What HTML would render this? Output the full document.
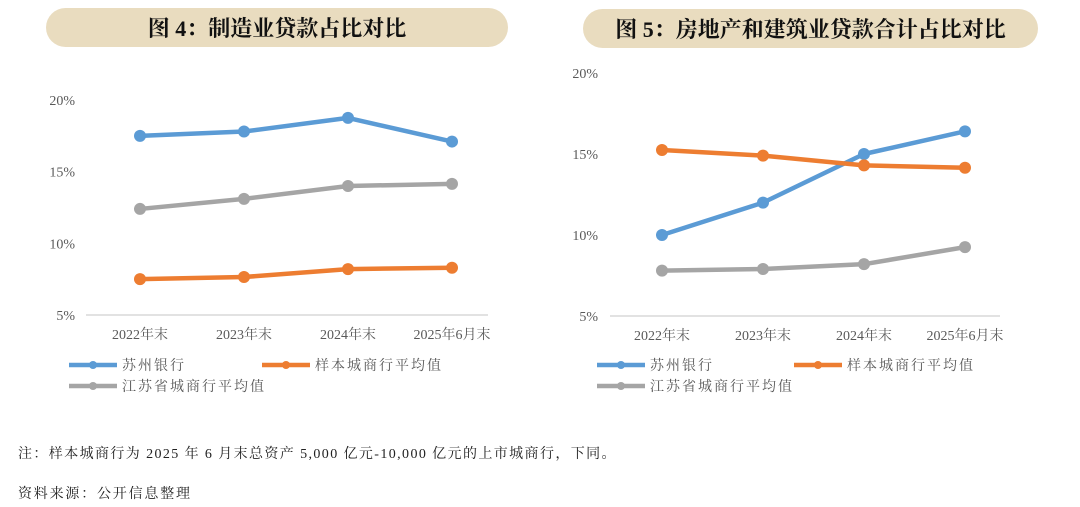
<!DOCTYPE html>
<html><head><meta charset="utf-8"><style>
body{margin:0;width:1080px;height:507px;background:#fff;overflow:hidden;font-family:"Liberation Serif","Noto Serif CJK SC",serif;}
svg{position:absolute;left:0;top:0}
.note{position:absolute;left:18px;font-size:14px;color:#222;letter-spacing:1.4px;font-family:"Liberation Serif","Noto Serif CJK SC",serif}
</style></head><body>
<svg id="s" width="1080" height="507"></svg>
<div class="note" style="top:443px">注：样本城商行为 2025 年 6 月末总资产 5,000 亿元-10,000 亿元的上市城商行，下同。</div>
<div class="note" style="top:483px;letter-spacing:1.8px">资料来源：公开信息整理</div>
<script>
const categories=["2022年末","2023年末","2024年末","2025年6月末"];
const yTicks=[5,10,15,20];
const seriesNames=["苏州银行","样本城商行平均值","江苏省城商行平均值"];
const colors=["#5b9bd5","#ed7d31","#a5a5a5"];
const c1Suzhou=[17.5,17.8,18.75,17.1];
const c1Sample=[7.5,7.65,8.2,8.3];
const c1Jiangsu=[12.4,13.1,14.0,14.15];
const c2Suzhou=[10.0,12.0,15.0,16.4];
const c2Sample=[15.25,14.9,14.3,14.15];
const c2Jiangsu=[7.8,7.9,8.2,9.25];
const NS="http://www.w3.org/2000/svg";
const svg=document.getElementById('s');
function mk(t,a,p){const e=document.createElementNS(NS,t);for(const k in a)e.setAttribute(k,a[k]);(p||svg).appendChild(e);return e;}
function chart(cfg,series,name){
  const g=mk('g',{});
  
  
  const pill=mk('rect',{x:cfg.px,y:cfg.py,width:cfg.pw,height:39,rx:19.5,fill:"#e9dcbf"},g);
  
  
  const t=mk('text',{x:cfg.px+cfg.pw/2,y:cfg.py+28,"text-anchor":"middle","font-size":22,"font-weight":"bold",fill:"#111"},g);
  t.textContent=cfg.title;
  
  
  const y=v=>cfg.y0+(v-5)/15*(cfg.y20-cfg.y0);
  const x=i=>cfg.x0+i*cfg.dx;
  const ax=mk('line',{x1:cfg.ax1,x2:cfg.ax2,y1:cfg.y0,y2:cfg.y0,stroke:"#d9d9d9","stroke-width":1.5},g);
  
  
  yTicks.forEach(v=>{const l=mk('text',{x:cfg.ylx,y:y(v)+5,"text-anchor":"end","font-size":14,fill:"#595959"},g);l.textContent=v+"%";
    
    });
  categories.forEach((c,i)=>{const l=mk('text',{x:x(i),y:cfg.y0+24,"text-anchor":"middle","font-size":14,fill:"#595959"},g);l.textContent=c;
    
    });
  series.forEach((d,si)=>{
    const pl=mk('polyline',{points:d.map((v,i)=>x(i)+","+y(v)).join(" "),fill:"none",stroke:colors[si],"stroke-width":4.5,"stroke-linejoin":"round"},g);
    
    
    d.forEach((v,i)=>{const c=mk('circle',{cx:x(i),cy:y(v),r:6,fill:colors[si]},g);
      
      });
  });
  const lp=[[cfg.lx,365],[cfg.lx2,365],[cfg.lx,386]];
  seriesNames.forEach((n,si)=>{
    const [lx,ly]=lp[si];
    const le=mk('g',{},g);
    
    
    mk('line',{x1:lx,x2:lx+48,y1:ly,y2:ly,stroke:colors[si],"stroke-width":4.5},le);
    mk('circle',{cx:lx+24,cy:ly,r:4,fill:colors[si]},le);
    const tt=mk('text',{x:lx+53,y:ly+5,"font-size":14,fill:"#595959","letter-spacing":"2"},le);tt.textContent=n;
  });
}
chart({px:46,py:8,pw:462,title:"图 4：制造业贷款占比对比",y0:315,y20:100,x0:140,dx:104,ax1:86,ax2:488,ylx:75,lx:69,lx2:262},[c1Suzhou,c1Sample,c1Jiangsu],'chart-manufacturing');
chart({px:583,py:9,pw:455,title:"图 5：房地产和建筑业贷款合计占比对比",y0:316,y20:73,x0:662,dx:101,ax1:610,ax2:1000,ylx:598,lx:597,lx2:794},[c2Suzhou,c2Sample,c2Jiangsu],'chart-real-estate');
</script>
</body></html>
